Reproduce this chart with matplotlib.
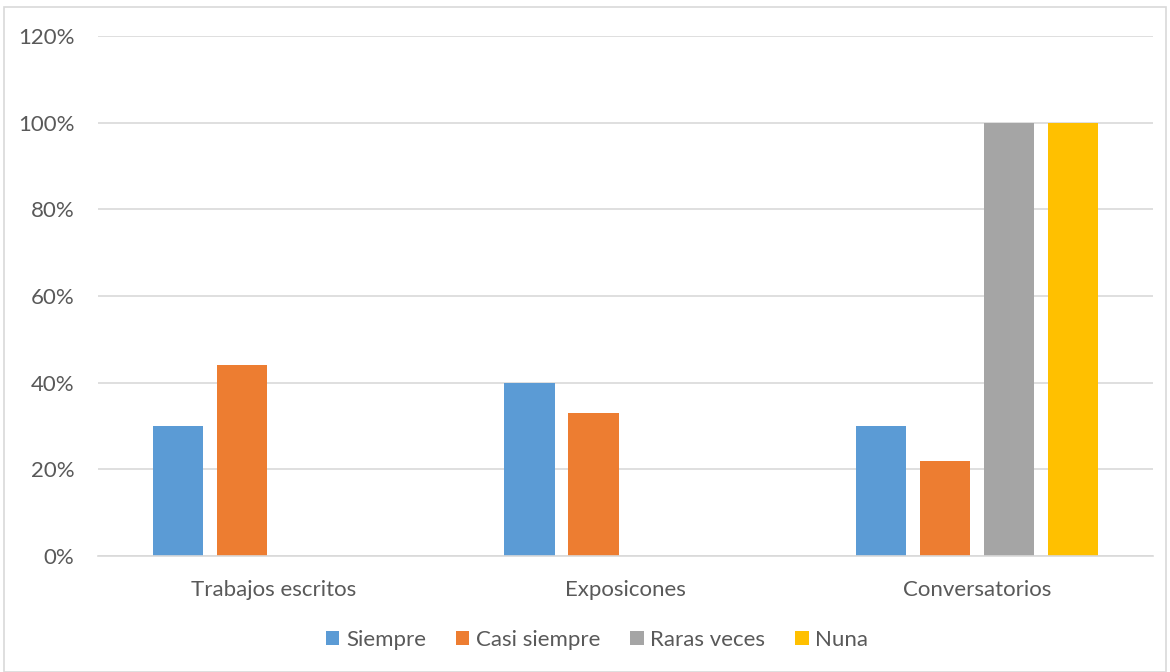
import matplotlib
matplotlib.use("Agg")
import matplotlib.pyplot as plt
import numpy as np
from matplotlib.patches import Rectangle
from matplotlib.ticker import PercentFormatter

categories = ["Trabajos escritos", "Exposicones", "Conversatorios"]
series = ["Siempre", "Casi siempre", "Raras veces", "Nuna"]
siempre = [30, 40, 30]
casi_siempre = [44, 33, 22]
raras_veces = [0, 0, 100]
nuna = [0, 0, 100]
values = [siempre, casi_siempre, raras_veces, nuna]
colors = ["#5B9BD5", "#ED7D31", "#A5A5A5", "#FFC000"]

plt.rcParams["font.family"] = ["Lato", "DejaVu Sans"]
text_color = "#595959"

fig = plt.figure(figsize=(11.7, 6.72), dpi=100)
ax = fig.add_axes([98 / 1170, 116 / 672, 1055 / 1170, 520 / 672])

x = np.arange(len(categories))
width = 0.1425
step = 0.182
for i, (name, vals, c) in enumerate(zip(series, values, colors)):
    ax.bar(x + (i - 1.5) * step, vals, width, color=c, label=name, zorder=2)

ax.set_xlim(-0.5, len(categories) - 0.5)
ax.set_ylim(0, 120)
ax.set_yticks(np.arange(0, 121, 20))
ax.yaxis.set_major_formatter(PercentFormatter(decimals=0))
ax.set_xticks(x)
ax.set_xticklabels(categories)
ax.grid(axis="y", color="#D9D9D9", lw=1.2, zorder=0)
for s in ["top", "right", "left"]:
    ax.spines[s].set_visible(False)
ax.spines["bottom"].set_color("#D9D9D9")
ax.spines["bottom"].set_linewidth(1.2)
ax.tick_params(axis="both", length=0, labelsize=16, colors=text_color)
ax.tick_params(axis="y", pad=17)
ax.tick_params(axis="x", pad=17)

leg = fig.legend(loc="center", bbox_to_anchor=(597 / 1170, 32 / 672), ncol=4, frameon=False,
                 fontsize=16, handlelength=0.6, handleheight=0.6, handletextpad=0.3,
                 columnspacing=1.35)
for t in leg.get_texts():
    t.set_color(text_color)

fig.patches.append(Rectangle((4 / 1170, 0), 1162 / 1170, 665 / 672, transform=fig.transFigure,
                             fill=False, edgecolor="#D9D9D9", lw=1.2))

fig.savefig("out.png", dpi=100)
